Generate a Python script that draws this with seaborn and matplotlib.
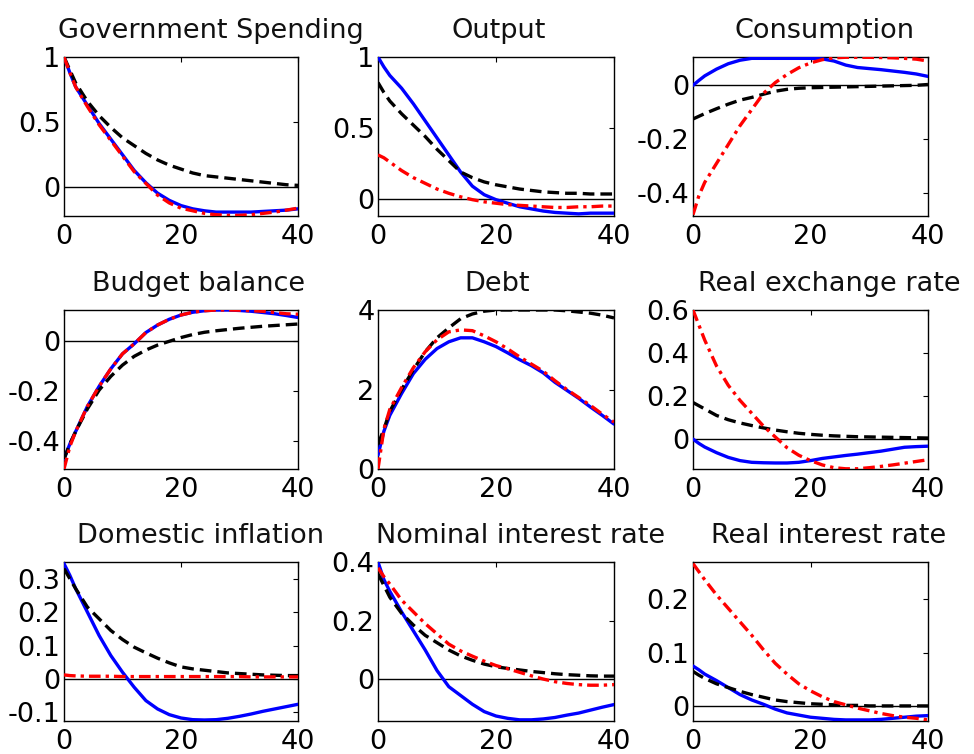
import numpy as np
import pandas as pd
import matplotlib
matplotlib.use("Agg")
import matplotlib.pyplot as plt
import seaborn as sns

periods = [0, 1, 2, 4, 6, 8, 10, 12, 14, 16, 18, 20, 22, 24, 26, 28, 30, 32, 34, 36, 38, 40]

titles = ["Government Spending", "Output", "Consumption",
          "Budget balance", "Debt", "Real exchange rate",
          "Domestic inflation", "Nominal interest rate", "Real interest rate"]

# --- series (blue solid, black dashed, red dash-dot) ---
gov_blue = [1.0, 0.88, 0.77, 0.63, 0.49, 0.37, 0.25, 0.13, 0.035, -0.045, -0.1, -0.14, -0.165, -0.18, -0.19, -0.19, -0.19, -0.19, -0.185, -0.18, -0.175, -0.165]
gov_black = [1.0, 0.9, 0.8, 0.66, 0.55, 0.46, 0.38, 0.32, 0.26, 0.21, 0.17, 0.14, 0.11, 0.09, 0.08, 0.07, 0.06, 0.05, 0.04, 0.03, 0.02, 0.015]
gov_red = [1.0, 0.88, 0.77, 0.62, 0.48, 0.36, 0.24, 0.12, 0.03, -0.06, -0.12, -0.16, -0.18, -0.2, -0.21, -0.215, -0.215, -0.21, -0.2, -0.19, -0.175, -0.16]

out_blue = [1.0, 0.93, 0.87, 0.78, 0.67, 0.55, 0.43, 0.31, 0.19, 0.09, 0.03, -0.005, -0.03, -0.055, -0.07, -0.085, -0.095, -0.1, -0.105, -0.1, -0.1, -0.1]
out_black = [0.82, 0.75, 0.69, 0.6, 0.52, 0.44, 0.35, 0.27, 0.19, 0.15, 0.12, 0.1, 0.085, 0.07, 0.06, 0.05, 0.045, 0.04, 0.04, 0.035, 0.035, 0.035]
out_red = [0.31, 0.29, 0.26, 0.2, 0.15, 0.11, 0.07, 0.04, 0.015, -0.005, -0.02, -0.03, -0.04, -0.045, -0.05, -0.055, -0.06, -0.06, -0.055, -0.055, -0.05, -0.05]

cons_blue = [0.0, 0.018, 0.035, 0.06, 0.08, 0.093, 0.1, 0.1, 0.1, 0.1, 0.1, 0.1, 0.098, 0.09, 0.075, 0.066, 0.062, 0.058, 0.053, 0.048, 0.042, 0.033]
cons_black = [-0.125, -0.115, -0.105, -0.087, -0.07, -0.055, -0.045, -0.033, -0.022, -0.015, -0.011, -0.009, -0.008, -0.007, -0.006, -0.005, -0.004, -0.003, -0.002, -0.001, 0.0, 0.003]
cons_red = [-0.48, -0.41, -0.36, -0.29, -0.22, -0.15, -0.09, -0.03, 0.01, 0.04, 0.065, 0.083, 0.095, 0.102, 0.104, 0.104, 0.104, 0.103, 0.102, 0.1, 0.097, 0.09]

bud_blue = [-0.47, -0.41, -0.36, -0.26, -0.18, -0.11, -0.05, -0.01, 0.035, 0.065, 0.088, 0.105, 0.116, 0.122, 0.125, 0.125, 0.123, 0.12, 0.115, 0.11, 0.103, 0.095]
bud_black = [-0.47, -0.41, -0.36, -0.27, -0.195, -0.14, -0.095, -0.06, -0.035, -0.015, 0.0, 0.015, 0.027, 0.036, 0.042, 0.047, 0.052, 0.056, 0.06, 0.063, 0.066, 0.069]
bud_red = [-0.51, -0.42, -0.36, -0.26, -0.18, -0.11, -0.05, -0.01, 0.035, 0.065, 0.088, 0.105, 0.116, 0.122, 0.125, 0.125, 0.124, 0.122, 0.12, 0.115, 0.11, 0.108]

debt_blue = [0.35, 0.95, 1.35, 1.9, 2.4, 2.76, 3.03, 3.2, 3.3, 3.3, 3.2, 3.08, 2.92, 2.75, 2.6, 2.42, 2.18, 1.98, 1.78, 1.56, 1.35, 1.13]
debt_black = [0.62, 1.0, 1.45, 2.0, 2.5, 2.95, 3.3, 3.55, 3.78, 3.9, 3.97, 4.0, 4.0, 4.0, 4.0, 4.0, 4.0, 3.98, 3.95, 3.92, 3.87, 3.8]
debt_red = [0.0, 1.0, 1.5, 2.05, 2.55, 2.95, 3.25, 3.45, 3.5, 3.48, 3.35, 3.2, 3.02, 2.82, 2.64, 2.46, 2.22, 2.0, 1.8, 1.6, 1.38, 1.18]

rer_blue = [0.0, -0.02, -0.037, -0.063, -0.085, -0.1, -0.108, -0.11, -0.111, -0.111, -0.108, -0.1, -0.09, -0.083, -0.076, -0.07, -0.063, -0.056, -0.047, -0.038, -0.035, -0.033]
rer_black = [0.17, 0.155, 0.14, 0.11, 0.09, 0.075, 0.063, 0.052, 0.042, 0.034, 0.027, 0.022, 0.018, 0.015, 0.013, 0.011, 0.01, 0.009, 0.008, 0.007, 0.006, 0.005]
rer_red = [0.6, 0.53, 0.46, 0.34, 0.25, 0.18, 0.12, 0.06, 0.01, -0.04, -0.075, -0.1, -0.12, -0.133, -0.138, -0.138, -0.133, -0.127, -0.12, -0.112, -0.104, -0.096]

inf_blue = [0.345, 0.31, 0.27, 0.2, 0.13, 0.07, 0.02, -0.025, -0.065, -0.09, -0.107, -0.117, -0.122, -0.123, -0.122, -0.118, -0.112, -0.105, -0.097, -0.09, -0.083, -0.076]
inf_black = [0.33, 0.3, 0.27, 0.215, 0.18, 0.145, 0.118, 0.095, 0.078, 0.062, 0.048, 0.036, 0.03, 0.026, 0.022, 0.018, 0.016, 0.014, 0.012, 0.011, 0.01, 0.01]
inf_red = [0.012, 0.01, 0.009, 0.008, 0.008, 0.008, 0.007, 0.007, 0.007, 0.007, 0.007, 0.007, 0.007, 0.007, 0.007, 0.007, 0.007, 0.006, 0.006, 0.006, 0.006, 0.006]

nom_blue = [0.4, 0.34, 0.3, 0.23, 0.165, 0.1, 0.03, -0.025, -0.055, -0.085, -0.11, -0.125, -0.133, -0.138, -0.138, -0.135, -0.13, -0.122, -0.115, -0.105, -0.095, -0.086]
nom_black = [0.36, 0.32, 0.28, 0.225, 0.185, 0.15, 0.125, 0.1, 0.08, 0.065, 0.052, 0.043, 0.037, 0.032, 0.027, 0.023, 0.019, 0.016, 0.014, 0.012, 0.011, 0.011]
nom_red = [0.38, 0.35, 0.325, 0.27, 0.23, 0.19, 0.155, 0.12, 0.097, 0.079, 0.062, 0.047, 0.036, 0.024, 0.012, 0.001, -0.008, -0.014, -0.018, -0.02, -0.02, -0.018]

rint_blue = [0.075, 0.068, 0.06, 0.048, 0.035, 0.022, 0.012, 0.004, -0.005, -0.012, -0.016, -0.02, -0.022, -0.024, -0.025, -0.025, -0.025, -0.024, -0.022, -0.02, -0.018, -0.017]
rint_black = [0.065, 0.058, 0.052, 0.042, 0.035, 0.028, 0.022, 0.017, 0.012, 0.009, 0.007, 0.005, 0.004, 0.003, 0.002, 0.002, 0.001, 0.001, 0.001, 0.001, 0.001, 0.001]
rint_red = [0.265, 0.25, 0.235, 0.207, 0.182, 0.157, 0.132, 0.105, 0.08, 0.06, 0.042, 0.029, 0.018, 0.009, 0.003, -0.003, -0.008, -0.013, -0.017, -0.02, -0.022, -0.025]

blue_series = [gov_blue, out_blue, cons_blue, bud_blue, debt_blue, rer_blue, inf_blue, nom_blue, rint_blue]
black_series = [gov_black, out_black, cons_black, bud_black, debt_black, rer_black, inf_black, nom_black, rint_black]
red_series = [gov_red, out_red, cons_red, bud_red, debt_red, rer_red, inf_red, nom_red, rint_red]

ylims = [(-0.22, 1.0), (-0.12, 1.0), (-0.485, 0.105),
         (-0.51, 0.125), (0.0, 4.0), (-0.139, 0.6),
         (-0.126, 0.35), (-0.142, 0.395), (-0.027, 0.268)]
yticks = [[0, 0.5, 1], [0, 0.5, 1], [-0.4, -0.2, 0],
          [-0.4, -0.2, 0], [0, 2, 4], [0, 0.2, 0.4, 0.6],
          [-0.1, 0, 0.1, 0.2, 0.3], [0, 0.2, 0.4], [0, 0.1, 0.2]]
xticks = [0, 20, 40]

sns.set_style("white")
plt.rcParams['font.family'] = ['DejaVu Sans']
FS = 19.5

W, H = 974, 754
fig = plt.figure(figsize=(W / 100, H / 100), dpi=100)

col_l = [64, 378, 693]
col_w = [234, 236, 235]
row_t = [57, 310, 562]
row_b = [216, 469, 721]
title_cx = [0.628, 0.513, 0.56, 0.577, 0.504, 0.581, 0.585, 0.602, 0.577]

for i in range(9):
    r, c = divmod(i, 3)
    ax = fig.add_axes([col_l[c] / W, 1 - row_b[r] / H, col_w[c] / W, (row_b[r] - row_t[r]) / H])
    ax.axhline(0, color='black', lw=1.0, zorder=1)
    sns.lineplot(x=periods, y=blue_series[i], ax=ax, color=(0, 0, 1), lw=2.4, zorder=3)
    sns.lineplot(x=periods, y=black_series[i], ax=ax, color='black', lw=2.4, zorder=4,
                 dashes=False).lines[-1].set_dashes((3.5, 1.8))
    ln = sns.lineplot(x=periods, y=red_series[i], ax=ax, color=(1, 0, 0), lw=2.4, zorder=5).lines[-1]
    ln.set_dashes((3.5, 1.5, 1.0, 1.5))
    ax.set_xlim(0, 40)
    ax.set_ylim(*ylims[i])
    ax.set_xticks(xticks)
    ax.set_yticks(yticks[i])
    ax.set_xticklabels([str(v) for v in xticks])
    ax.set_yticklabels([('%g' % v) for v in yticks[i]])
    ax.tick_params(direction='in', top=True, right=True, length=3.5, width=0.8,
                   labelsize=FS, colors='black')
    ax.tick_params(axis='x', pad=6)
    ax.tick_params(axis='y', pad=2.5)
    for s in ax.spines.values():
        s.set_visible(True)
        s.set_color('black')
        s.set_linewidth(1.0)
    ax.set_title(titles[i], fontsize=FS, x=title_cx[i], pad=14, color='#111111')
    ax.set_xlabel('')
    ax.set_ylabel('')
    ax.set_facecolor('white')

fig.savefig('out.png', dpi=100, facecolor='white')
